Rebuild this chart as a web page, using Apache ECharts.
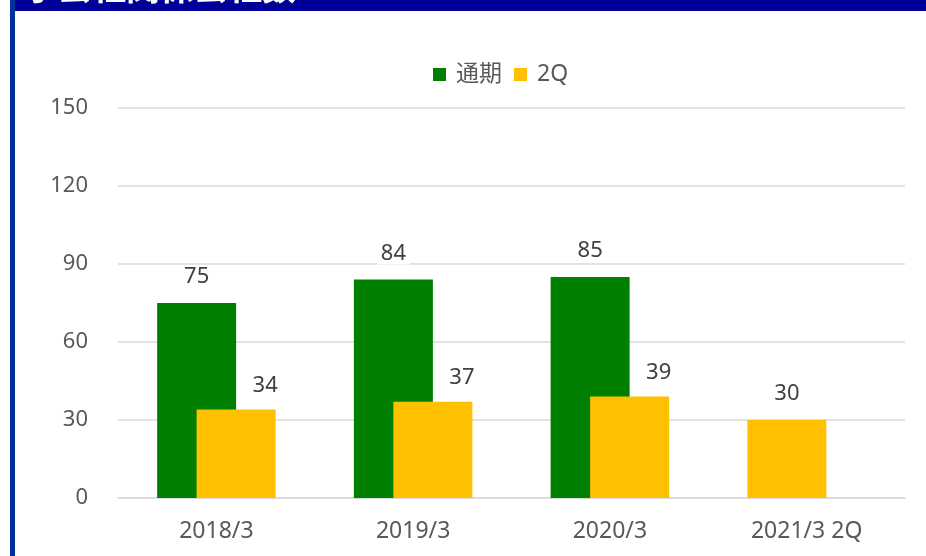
<!DOCTYPE html>
<html>
<head>
<meta charset="utf-8">
<script src="https://cdn.jsdelivr.net/npm/echarts@6/dist/echarts.min.js"></script>
<style>
    html, body { margin: 0; padding: 0; background: #fff; }
    #main { width: 926px; height: 556px; }
</style>
</head>
<body>
<div id="main"></div>
<script>
// データ
var categories = ['2018/3', '2019/3', '2020/3', '2021/3 2Q'];
var seriesNames = ['通期', '2Q'];
var fullYear = [75, 84, 85, 30];   // 最後の値は2Qの色で表示
var secondQ = [34, 37, 39, null];
var yTicks = [0, 30, 60, 90, 120, 150];

var green = '#008000';
var yellow = '#FFC000';
var textColor = '#595959';
var font = '"Noto Sans", "Noto Sans CJK JP", sans-serif';

var dom = echarts.init(document.getElementById('main'));

var fullData = fullYear.map(function (v, i) {
    if (i === fullYear.length - 1) {
        return { value: v, itemStyle: { color: yellow } };
    }
    return v;
});

var option = {
    backgroundColor: '#ffffff',
    animation: false,
    textStyle: { fontFamily: font },
    graphic: [{
        type: 'rect',
        left: 10,
        top: 0,
        shape: { width: 916, height: 11 },
        style: { fill: '#000099' },
        z: 10
    }, {
        type: 'rect',
        left: 10,
        top: 0,
        shape: { width: 5, height: 556 },
        style: { fill: '#003399' },
        z: 10
    }, {
        type: 'text',
        left: 24,
        top: -30,
        style: {
            text: '子会社関係会社数',
            fill: '#ffffff',
            font: 'bold 34px "Noto Sans CJK JP"'
        },
        z: 11
    }],
    legend: {
        top: 58,
        left: 428,
        icon: 'rect',
        itemWidth: 13,
        itemHeight: 13,
        itemGap: 12,
        textStyle: { color: textColor, fontSize: 23, fontFamily: font, padding: [0, 0, 0, 5] },
        data: seriesNames
    },
    grid: {
        left: 118,
        right: 21,
        top: 108,
        bottom: 58,
        containLabel: false
    },
    xAxis: {
        type: 'category',
        data: categories,
        axisTick: { show: false },
        axisLine: { lineStyle: { color: '#d9d9d9', width: 1.5 } },
        axisLabel: { color: textColor, fontSize: 23, margin: 22 }
    },
    yAxis: {
        type: 'value',
        min: yTicks[0],
        max: yTicks[yTicks.length - 1],
        interval: 30,
        axisLine: { show: false },
        axisTick: { show: false },
        splitLine: { lineStyle: { color: '#d9d9d9', width: 1.5 } },
        axisLabel: { color: textColor, fontSize: 22, margin: 30 }
    },
    series: [{
        name: seriesNames[0],
        type: 'bar',
        barWidth: 79,
        barGap: '-50%',
        itemStyle: { color: green },
        label: {
            show: true,
            position: 'top',
            distance: 15,
            color: '#404040',
            fontSize: 22,
            backgroundColor: '#ffffff',
            padding: [0, 4]
        },
        data: fullData
    }, {
        name: seriesNames[1],
        type: 'bar',
        barWidth: 79,
        barGap: '-50%',
        itemStyle: { color: yellow },
        label: {
            show: true,
            position: 'top',
            distance: 13,
            offset: [29, 0],
            color: '#404040',
            fontSize: 22
        },
        data: secondQ
    }]
};

dom.setOption(option);
</script>
</body>
</html>
